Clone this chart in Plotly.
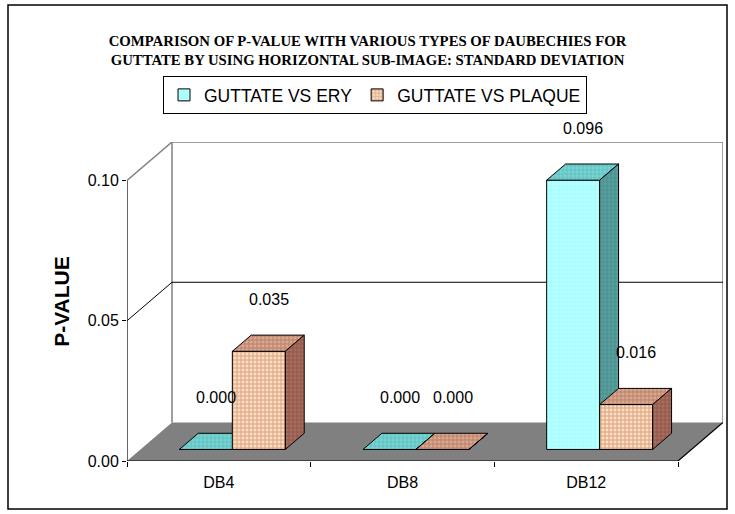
import plotly.graph_objects as go

# ---------------- data ----------------
categories = ["DB4", "DB8", "DB12"]
ery_values = [0.000, 0.000, 0.096]
plaque_values = [0.035, 0.000, 0.016]
series_names = ["GUTTATE VS ERY", "GUTTATE VS PLAQUE"]
y_ticks = [0.00, 0.05, 0.10]
title_lines = [
    "COMPARISON OF P-VALUE WITH VARIOUS TYPES OF DAUBECHIES FOR",
    "GUTTATE BY USING HORIZONTAL SUB-IMAGE: STANDARD DEVIATION",
]
y_title = "P-VALUE"

# ---------------- layout geometry (styling) ----------------
W, H = 735, 514
L, R, T, B = 127, 12, 142, 53
plot_w = W - L - R
plot_h = H - T - B
depth_px_x, depth_px_y = 45.0, 38.5
n = len(categories)
cat_px = (plot_w - depth_px_x) / n
ytop = max(y_ticks)
val_px = (plot_h - depth_px_y) / ytop
DX = depth_px_x / cat_px
DY = depth_px_y / val_px
x_lo, x_hi = -0.5, n - 0.5 + DX
y_lo, y_hi = 0.0, ytop + DY
bar_w = 53.0 / cat_px
f0, f1 = 0.30, 0.72          # depth slot of the bars
ddx, ddy = (f1 - f0) * DX, (f1 - f0) * DY
base = f0 * DY

FONT = "Liberation Sans, Arial, sans-serif"

styles = [
    dict(front="#A4FFFF", front_fg="#D8FFFF", top="#66C6C6", top_fg="#8EDDDD",
         side="#4E9494", side_fg="#68AAAA", shape="."),
    dict(front="#F7E0BC", front_fg="#C24E40", top="#D6AA90", top_fg="#A4483A",
         side="#A66E5E", side_fg="#7A3A2C", shape="+"),
]


def px_x(p):
    return (p - L) / plot_w


def px_y(p):
    return (H - B - p) / plot_h


fig = go.Figure()
annotations = []

for s, (name, vals) in enumerate(zip(series_names, [ery_values, plaque_values])):
    st = styles[s]
    xa = "x" if s == 0 else "x2"
    ya = "y" if s == 0 else "y2"
    xs = [i + (s - 0.5) * bar_w + f0 * DX for i in range(n)]
    fig.add_trace(go.Bar(
        x=xs, y=vals, base=[base] * n, width=bar_w, name=name,
        xaxis=xa, yaxis=ya,
        marker=dict(color=st["front"], line=dict(color="black", width=1),
                    pattern=dict(shape=st["shape"], fgcolor=st["front_fg"],
                                 bgcolor=st["front"], size=4, solidity=0.4)),
        hoverinfo="skip",
    ))
    tx, ty, sx, sy = [], [], [], []
    for xc, v in zip(xs, vals):
        x0, x1 = xc - bar_w / 2, xc + bar_w / 2
        top = base + v
        tx += [x0, x1, x1 + ddx, x0 + ddx, x0, None]
        ty += [top, top, top + ddy, top + ddy, top, None]
        sx += [x1, x1, x1 + ddx, x1 + ddx, x1, None]
        sy += [base, top, top + ddy, base + ddy, base, None]
        annotations.append(dict(
            x=xc, y=top, xref=xa, yref=ya, text=f"{v:.3f}", showarrow=False,
            xshift=10, yshift=52,
            font=dict(family=FONT, size=16, color="black")))
    for px_, py_, col, fg in [(tx, ty, st["top"], st["top_fg"]),
                              (sx, sy, st["side"], st["side_fg"])]:
        fig.add_trace(go.Scatter(
            x=px_, y=py_, xaxis=xa, yaxis=ya, mode="lines", fill="toself",
            fillcolor=col, line=dict(color="black", width=1),
            fillpattern=dict(shape=st["shape"], fgcolor=fg, bgcolor=col,
                             size=4, solidity=0.4),
            showlegend=False, hoverinfo="skip"))

# ---------------- walls, floor, gridlines ----------------
shapes = []
floor_path = (f"M {-0.5},0 L {n - 0.5},0 L {n - 0.5 + DX},{DY} "
              f"L {-0.5 + DX},{DY} Z")
shapes.append(dict(type="path", path=floor_path, xref="x", yref="y",
                   fillcolor="#808080", line=dict(width=0), layer="below"))
wall_path = (f"M {-0.5 + DX},{DY} L {-0.5 + DX},{ytop + DY} "
             f"L {n - 0.5 + DX},{ytop + DY} L {n - 0.5 + DX},{DY}")
shapes.append(dict(type="path", path=wall_path, xref="x", yref="y",
                   line=dict(color="#808080", width=1.5), layer="below"))
shapes.append(dict(type="line", x0=-0.5, y0=ytop, x1=-0.5 + DX, y1=ytop + DY,
                   xref="x", yref="y", line=dict(color="#808080", width=1.5),
                   layer="below"))
for t in y_ticks[1:-1]:
    shapes.append(dict(type="path",
                       path=f"M {-0.5},{t} L {-0.5 + DX},{t + DY} L {n - 0.5 + DX},{t + DY}",
                       xref="x", yref="y", line=dict(color="black", width=1),
                       layer="below"))
shapes.append(dict(type="line", x0=-0.5, y0=0, x1=-0.5, y1=ytop, xref="x",
                   yref="y", line=dict(color="black", width=1.2)))
shapes.append(dict(type="line", x0=-0.5, y0=0, x1=n - 0.5, y1=0, xref="x",
                   yref="y", line=dict(color="black", width=1.2)))
shapes.append(dict(type="line", x0=n - 0.5, y0=0, x1=n - 0.5 + DX, y1=DY,
                   xref="x", yref="y", line=dict(color="black", width=1.2)))
# outer chart border
shapes.append(dict(type="rect", xref="paper", yref="paper",
                   x0=px_x(8), x1=px_x(727), y0=px_y(509), y1=px_y(5),
                   line=dict(color="black", width=1.5)))

axis_common = dict(range=[x_lo, x_hi], showgrid=False, zeroline=False,
                   showline=False, fixedrange=True)

fig.update_layout(
    width=W, height=H,
    margin=dict(l=L, r=R, t=T, b=B),
    paper_bgcolor="white", plot_bgcolor="rgba(0,0,0,0)",
    barmode="overlay",
    showlegend=True,
    title=dict(text="<b>" + title_lines[0] + "</b><br><b>" + title_lines[1] + "</b>",
               x=0.5, xref="container", xanchor="center",
               y=1 - 45.5 / H, yref="container", yanchor="middle",
               font=dict(family="Liberation Serif, Times New Roman, serif",
                         size=14.75, color="black")),
    xaxis=dict(**axis_common, tickmode="array",
               tickvals=list(range(n)), ticktext=categories, ticks="",
               ticklabelstandoff=10,
               tickfont=dict(family=FONT, size=16, color="black")),
    xaxis2=dict(**axis_common, overlaying="x", anchor="y2", side="bottom",
                tickmode="array",
                tickvals=[i - 0.5 for i in range(n + 1)],
                ticktext=[""] * (n + 1), ticks="outside", ticklen=5,
                tickcolor="black", tickwidth=1),
    yaxis=dict(range=[y_lo, y_hi], showgrid=False, zeroline=False,
               showline=False, tickmode="array", tickvals=y_ticks,
               tickformat=".2f", ticks="outside", ticklen=4,
               tickcolor="black", fixedrange=True,
               tickfont=dict(family=FONT, size=16, color="black"),
               title=dict(text="<b>" + y_title + "</b>", standoff=12,
                          font=dict(family=FONT, size=21, color="black"))),
    yaxis2=dict(range=[y_lo, y_hi], overlaying="y", visible=False,
                fixedrange=True),
    legend=dict(orientation="h", x=px_x(163), y=px_y(76), xanchor="left",
                yanchor="top", bordercolor="black", borderwidth=1,
                bgcolor="white", itemwidth=30, tracegroupgap=0,
                font=dict(family=FONT, size=17.5, color="black")),
    shapes=shapes,
    annotations=annotations,
)

fig.write_html("out.html",
               config={"displayModeBar": False, "staticPlot": True},
               post_script="document.body.style.margin='0';"
                           "document.body.style.padding='0';")
